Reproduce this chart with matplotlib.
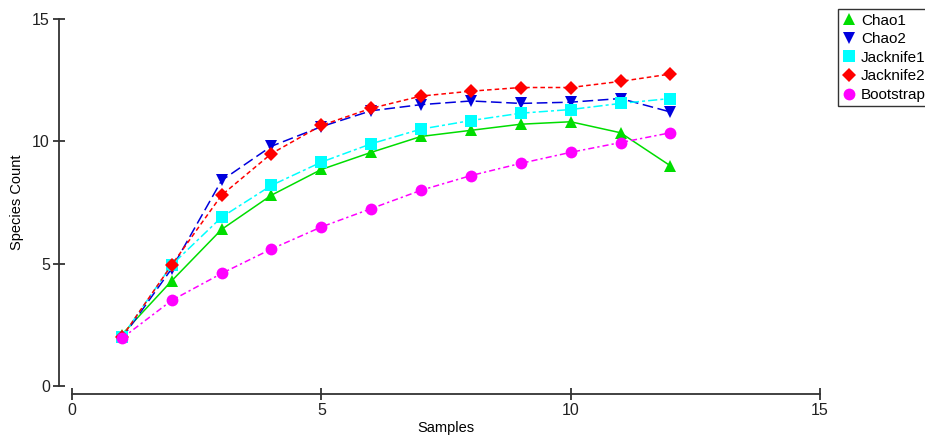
import matplotlib
matplotlib.use('Agg')
import matplotlib.pyplot as plt
from matplotlib.lines import Line2D

plt.rcParams['font.family'] = ['Liberation Sans', 'DejaVu Sans']

samples = [1, 2, 3, 4, 5, 6, 7, 8, 9, 10, 11, 12]
chao1 = [2.1, 4.3, 6.4, 7.8, 8.85, 9.55, 10.2, 10.45, 10.7, 10.8, 10.35, 9.0]
chao2 = [1.95, 4.8, 8.4, 9.8, 10.6, 11.25, 11.5, 11.65, 11.55, 11.6, 11.75, 11.2]
jack1 = [2.0, 4.95, 6.9, 8.2, 9.15, 9.9, 10.5, 10.85, 11.15, 11.3, 11.55, 11.75]
jack2 = [2.0, 4.95, 7.8, 9.5, 10.65, 11.35, 11.85, 12.05, 12.2, 12.2, 12.45, 12.75]
boot = [1.95, 3.5, 4.6, 5.6, 6.5, 7.25, 8.0, 8.6, 9.1, 9.55, 9.95, 10.35]

series = [
    ("Chao1", chao1, "#00dd00", "^", "-"),
    ("Chao2", chao2, "#0000dd", "v", (0, (7, 3))),
    ("Jacknife1", jack1, "#00ffff", "s", (0, (6, 2, 2, 2))),
    ("Jacknife2", jack2, "#ff0000", "D", (0, (3, 2))),
    ("Bootstrap", boot, "#ff00ff", "o", (0, (4, 2, 1.5, 2))),
]

fig = plt.figure(figsize=(9.25, 4.36), dpi=100)
ax = fig.add_axes([72 / 925, 50 / 436, 748 / 925, 367 / 436])

handles = []
for name, vals, col, mk, ls in series:
    ms = 7.5 if mk == "D" else 8.5
    ax.plot(samples, vals, color=col, linestyle=ls, linewidth=1.1,
            marker=mk, markersize=ms, markeredgewidth=0, clip_on=False)
    handles.append(Line2D([], [], color=col, marker=mk, linestyle='none',
                          markersize=ms, markeredgewidth=0, label=name))

ax.set_xlim(0, 15)
ax.set_ylim(0, 15)
ax.set_xticks([0, 5, 10, 15])
ax.set_yticks([0, 5, 10, 15])

for s in ['top', 'right']:
    ax.spines[s].set_visible(False)
ax.spines['left'].set_position(('outward', 9.4))
ax.spines['bottom'].set_position(('outward', 5.8))
for s in ['left', 'bottom']:
    ax.spines[s].set_color('#333333')
    ax.spines[s].set_linewidth(1.3)
ax.tick_params(direction='inout', length=9, width=1.3, color='#333333',
               labelsize=11.5, labelcolor='#222222', pad=2)

ax.set_xlabel("Samples", fontsize=10.5, labelpad=2)
ax.set_ylabel("Species Count", fontsize=10.5, labelpad=6)

leg = fig.legend(handles=handles, loc='upper left',
                 bbox_to_anchor=(838 / 925, 1 - 9 / 436),
                 frameon=True, fancybox=False, edgecolor='black',
                 fontsize=11, handlelength=0.8, handletextpad=0.4,
                 labelspacing=0.3, borderpad=0.3, borderaxespad=0)
leg.get_frame().set_linewidth(1.0)

fig.savefig("out.png", dpi=100)
